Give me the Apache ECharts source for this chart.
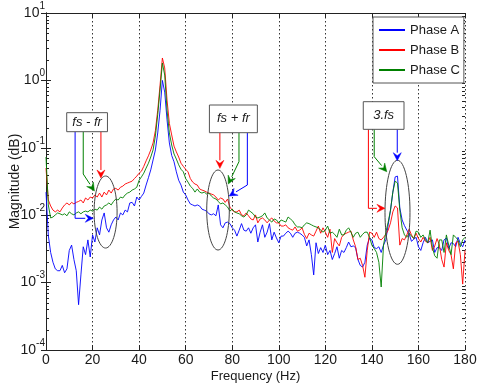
<!DOCTYPE html>
<html>
<head>
<meta charset="utf-8">
<script src="https://cdn.jsdelivr.net/npm/echarts@6/dist/echarts.min.js"></script>
<style>
  html, body { margin: 0; padding: 0; background: #fff; }
  #chart { width: 480px; height: 390px; }
</style>
</head>
<body>
<div id="chart"></div>
<script>
// frequency grid, 1 Hz steps
const freq = [];
for (let f = 0; f <= 180; f++) freq.push(f);

const seriesNames = ['Phase A', 'Phase B', 'Phase C'];

const phaseA = [
  0.022, 0.0050, 0.0028, 0.0020, 0.0016, 0.0015, 0.0015, 0.0018, 0.0014, 0.0016,
  0.0030, 0.0036, 0.0022, 0.0015, 0.00047, 0.0013, 0.0034, 0.0026, 0.0043, 0.0024,
  0.0051, 0.0040, 0.0065, 0.0051, 0.0085, 0.0108, 0.0065, 0.0056, 0.0072, 0.0085,
  0.0094, 0.0085, 0.0108, 0.0101, 0.0119, 0.0112, 0.0152, 0.0155, 0.0137, 0.0186,
  0.0168, 0.019, 0.0213, 0.028, 0.036, 0.047, 0.066, 0.093, 0.166, 0.36,
  1.0, 0.67, 0.26, 0.118, 0.077, 0.062, 0.044, 0.033, 0.028, 0.022,
  0.020, 0.0168, 0.0147, 0.0142, 0.0137, 0.0142, 0.0137, 0.0123, 0.0119, 0.0115,
  0.0105, 0.0101, 0.0105, 0.0098, 0.0142, 0.0072, 0.0065, 0.0077, 0.0079, 0.0075,
  0.0065, 0.0060, 0.0049, 0.0060, 0.0075, 0.0060, 0.0058, 0.0065, 0.0054, 0.0065,
  0.0072, 0.0040, 0.0056, 0.0072, 0.0047, 0.0056, 0.0075, 0.0043, 0.0056, 0.0046,
  0.0039, 0.0049, 0.0049, 0.0054, 0.0058, 0.0054, 0.0047, 0.0054, 0.0056, 0.0054,
  0.0051, 0.0047, 0.0035, 0.0043, 0.0026, 0.0013, 0.0039, 0.0027, 0.0033, 0.0028,
  0.0036, 0.0026, 0.0030, 0.0022, 0.0027, 0.0034, 0.0023, 0.0030, 0.0028, 0.0033,
  0.0040, 0.0034, 0.0035, 0.0033, 0.0022, 0.0018, 0.0017, 0.0020, 0.0036, 0.0046,
  0.0043, 0.0033, 0.0032, 0.0034, 0.0028, 0.0036, 0.0043, 0.0072, 0.0119, 0.022,
  0.037, 0.038, 0.0128, 0.0085, 0.0070, 0.0060, 0.0053, 0.0041, 0.0044, 0.0047,
  0.0034, 0.0030, 0.0039, 0.0047, 0.0039, 0.0041, 0.0043, 0.0028, 0.0033, 0.0033,
  0.0030, 0.0043, 0.0046, 0.0032, 0.0039, 0.0038, 0.0034, 0.0047, 0.0038, 0.0034,
  0.0043
];

const phaseB = [
  0.050, 0.0168, 0.0137, 0.0119, 0.0112, 0.0119, 0.0112, 0.0128, 0.0142, 0.0152,
  0.0142, 0.0155, 0.0147, 0.0155, 0.016, 0.0168, 0.0152, 0.018, 0.0168, 0.0186,
  0.018, 0.020, 0.0186, 0.0213, 0.0186, 0.022, 0.020, 0.0236, 0.0213, 0.0245,
  0.025, 0.0236, 0.026, 0.027, 0.029, 0.030, 0.031, 0.032, 0.035, 0.038,
  0.042, 0.045, 0.053, 0.064, 0.076, 0.093, 0.118, 0.18, 0.36, 0.85,
  2.15, 1.53, 0.51, 0.23, 0.155, 0.106, 0.087, 0.073, 0.059, 0.053,
  0.048, 0.044, 0.035, 0.031, 0.029, 0.028, 0.0245, 0.0236, 0.023, 0.022,
  0.0213, 0.0206, 0.020, 0.0186, 0.0168, 0.018, 0.0174, 0.0155, 0.0174, 0.0132,
  0.0119, 0.0112, 0.0112, 0.0119, 0.0101, 0.0098, 0.0108, 0.0098, 0.0088, 0.0085,
  0.0101, 0.0077, 0.0088, 0.0091, 0.0085, 0.0077, 0.0085, 0.0091, 0.0082, 0.0077,
  0.0077, 0.0069, 0.0069, 0.0072, 0.0065, 0.0062, 0.0060, 0.0067, 0.0058, 0.0060,
  0.0065, 0.0052, 0.0045, 0.0054, 0.0051, 0.0049, 0.0058, 0.0069, 0.0054, 0.0065,
  0.0056, 0.0047, 0.0062, 0.0028, 0.0045, 0.0039, 0.0035, 0.0047, 0.0052, 0.0054,
  0.0056, 0.0058, 0.0043, 0.0034, 0.0022, 0.0023, 0.0018, 0.0012, 0.0030, 0.0056,
  0.0054, 0.0047, 0.0056, 0.0045, 0.0043, 0.0047, 0.0052, 0.0060, 0.0077, 0.0112,
  0.0137, 0.0128, 0.0036, 0.0045, 0.0043, 0.0051, 0.0062, 0.0051, 0.0045, 0.0054,
  0.0045, 0.0040, 0.0047, 0.0041, 0.0039, 0.0047, 0.0030, 0.0035, 0.0045, 0.0036,
  0.0022, 0.0017, 0.0039, 0.0030, 0.0026, 0.0016, 0.0039, 0.0041, 0.0026, 0.00095,
  0.0030
];

const phaseC = [
  0.073, 0.0142, 0.0091, 0.0094, 0.0101, 0.0108, 0.0105, 0.0101, 0.0105, 0.0098,
  0.0112, 0.0105, 0.0101, 0.0108, 0.0112, 0.0105, 0.0112, 0.0115, 0.0112, 0.0119,
  0.0115, 0.0123, 0.0119, 0.0132, 0.0123, 0.0137, 0.0142, 0.0152, 0.0142, 0.016,
  0.0174, 0.0168, 0.0186, 0.018, 0.020, 0.0213, 0.022, 0.0236, 0.0245, 0.026,
  0.033, 0.037, 0.042, 0.050, 0.059, 0.073, 0.093, 0.150, 0.31, 0.72,
  1.81, 1.2, 0.36, 0.166, 0.11, 0.081, 0.068, 0.056, 0.048, 0.044,
  0.035, 0.031, 0.027, 0.025, 0.022, 0.0245, 0.022, 0.0213, 0.022, 0.0206,
  0.0213, 0.0193, 0.018, 0.0174, 0.016, 0.0147, 0.0152, 0.0142, 0.0132, 0.0115,
  0.0123, 0.0112, 0.0108, 0.0105, 0.0098, 0.0094, 0.0101, 0.0119, 0.0112, 0.0105,
  0.0094, 0.0091, 0.0094, 0.0098, 0.0108, 0.0091, 0.0085, 0.0079, 0.0088, 0.0085,
  0.0077, 0.0085, 0.0082, 0.0079, 0.0094, 0.0088, 0.0082, 0.0072, 0.0067, 0.0067,
  0.0065, 0.0072, 0.0077, 0.0075, 0.0072, 0.0069, 0.0067, 0.0065, 0.0060, 0.0056,
  0.0060, 0.0069, 0.0054, 0.0056, 0.0052, 0.0047, 0.0062, 0.0051, 0.0051, 0.0060,
  0.0065, 0.0056, 0.0047, 0.0054, 0.0056, 0.0047, 0.0052, 0.0056, 0.0056, 0.0047,
  0.0036, 0.0032, 0.0028, 0.0020, 0.00086, 0.0036, 0.0056, 0.0079, 0.0119, 0.022,
  0.032, 0.030, 0.0119, 0.0065, 0.0051, 0.0047, 0.0054, 0.0049, 0.0045, 0.0058,
  0.0056, 0.0047, 0.0051, 0.0043, 0.0039, 0.0060, 0.0033, 0.0025, 0.0023, 0.0043,
  0.0043, 0.0028, 0.0051, 0.0036, 0.0026, 0.0051, 0.0047, 0.0043, 0.0034, 0.0043,
  0.0047
];

// annotation callouts, in data units: [freq, log10(magnitude)]
const calloutText = ['fs - fr', 'fs + fr', '3.fs'];
const calloutBox = [
  [8.9, -0.479, 26.4, -0.761],
  [70.2, -0.365, 90.8, -0.776],
  [136.3, -0.316, 153.8, -0.726]
];
const calloutEllipse = [[25.6, -1.953], [73.9, -1.923], [151.0, -1.957]];
// arrow paths per callout: blue, green, red
const calloutArrows = [
  [
    ['#0000ff', [[12.5, -0.761], [12.5, -2.046], [20.3, -2.046]]],
    ['#008000', [[16.0, -0.761], [16.0, -1.389], [20.8, -1.641]]],
    ['#ff0000', [[23.6, -0.761], [23.6, -1.448]]]
  ],
  [
    ['#ff0000', [[74.7, -0.776], [74.7, -1.305]]],
    ['#008000', [[82.9, -0.776], [82.9, -1.206], [78.3, -1.537]]],
    ['#0000ff', [[86.5, -0.776], [86.5, -1.552], [78.7, -1.715]]]
  ],
  [
    ['#0000ff', [[150.9, -0.726], [150.9, -1.191]]],
    ['#008000', [[141.0, -0.726], [141.0, -1.132], [146.4, -1.355]]],
    ['#ff0000', [[138.5, -0.726], [138.5, -1.898], [145.6, -1.898]]]
  ]
];

const colors = ['#0000ff', '#ff0000', '#008000'];
const font = 'Liberation Sans, Arial, sans-serif';
const ink = '#1a1a1a';

const chart = echarts.init(document.getElementById('chart'));

function pairs(vals) {
  return vals.map((v, i) => [freq[i], v]);
}

const option = {
  animation: false,
  backgroundColor: '#fff',
  color: colors,
  grid: { left: 46, right: 15, top: 13, bottom: 40, outerBoundsMode: 'none', containLabel: false },
  legend: {
    orient: 'vertical',
    left: 373,
    top: 17,
    padding: [6, 4, 6, 6],
    itemWidth: 26,
    itemHeight: 2,
    itemGap: 6,
    icon: 'rect',
    backgroundColor: '#fff',
    borderColor: '#555',
    borderWidth: 1,
    borderRadius: 0,
    textStyle: { fontFamily: font, fontSize: 13, color: ink, lineHeight: 14 },
    data: seriesNames
  },
  xAxis: [{
    type: 'value',
    min: 0,
    max: 180,
    interval: 20,
    name: 'Frequency (Hz)',
    nameLocation: 'middle',
    nameGap: 20,
    nameMoveOverlap: false,
    nameTextStyle: { fontFamily: font, fontSize: 13, color: ink },
    axisLine: { lineStyle: { color: '#222', width: 1 } },
    axisTick: { inside: true, length: 5, lineStyle: { color: '#222' } },
    axisLabel: { fontFamily: font, fontSize: 14, color: ink, margin: 3 },
    splitLine: { show: true, lineStyle: { color: '#333', type: [1.5, 2.5], width: 1 } }
  }, {
    type: 'value',
    position: 'top',
    min: 0,
    max: 180,
    interval: 20,
    axisLine: { lineStyle: { color: '#222', width: 1 } },
    axisTick: { inside: true, length: 5, lineStyle: { color: '#222' } },
    axisLabel: { show: false },
    splitLine: { show: false }
  }],
  yAxis: [{
    type: 'log',
    logBase: 10,
    min: 0.0001,
    max: 10,
    name: 'Magnitude (dB)',
    nameLocation: 'middle',
    nameGap: 24,
    nameMoveOverlap: false,
    nameTextStyle: { fontFamily: font, fontSize: 14, color: ink },
    axisLine: { show: true, lineStyle: { color: '#222', width: 1 } },
    axisTick: { inside: true, length: 5, lineStyle: { color: '#222' } },
    axisLabel: {
      margin: 1,
      formatter: function (v) {
        const e = Math.round(Math.log10(v));
        return '{b|10}{s|' + e + '}';
      },
      rich: {
        b: { fontFamily: font, fontSize: 14, color: ink },
        s: { fontFamily: font, fontSize: 10, color: ink, padding: [0, 0, 14, 0] }
      }
    },
    splitLine: { show: false }
  }, {
    type: 'log',
    logBase: 10,
    min: 0.0001,
    max: 10,
    position: 'right',
    axisLine: { show: true, lineStyle: { color: '#222', width: 1 } },
    axisTick: { inside: true, length: 5, lineStyle: { color: '#222' } },
    axisLabel: { show: false },
    splitLine: { show: false }
  }],
  series: [phaseA, phaseB, phaseC].map((vals, i) => ({
    name: seriesNames[i],
    type: 'line',
    symbol: 'none',
    showSymbol: false,
    xAxisIndex: 0,
    yAxisIndex: 0,
    lineStyle: { width: 0.9, color: colors[i] },
    data: pairs(vals)
  }))
};

chart.setOption(option);

// extra drawing in data coordinates: minor log ticks and the callouts
function px(f, lg) {
  return chart.convertToPixel({ xAxisIndex: 0, yAxisIndex: 0 }, [f, Math.pow(10, lg)]);
}

const graphics = [];
const xl = chart.convertToPixel({ xAxisIndex: 0 }, 0);
const xr = chart.convertToPixel({ xAxisIndex: 0 }, 180);
for (let n = -4; n < 1; n++) {
  for (let k = 2; k <= 9; k++) {
    const y = Math.round(chart.convertToPixel({ yAxisIndex: 0 }, k * Math.pow(10, n))) + 0.5;
    graphics.push({ type: 'line', silent: true, shape: { x1: xl, y1: y, x2: xl + 3, y2: y }, style: { stroke: '#222', lineWidth: 1 } });
    graphics.push({ type: 'line', silent: true, shape: { x1: xr - 3, y1: y, x2: xr, y2: y }, style: { stroke: '#222', lineWidth: 1 } });
  }
}

const ellipseR = [[11.5, 36], [11.3, 40], [12.5, 52]];

calloutText.forEach((txt, i) => {
  const b = calloutBox[i];
  const p1 = px(b[0], b[1]);
  const p2 = px(b[2], b[3]);
  const c = px(calloutEllipse[i][0], calloutEllipse[i][1]);
  graphics.push({
    type: 'ellipse', silent: true, z: 50,
    shape: { cx: c[0], cy: c[1], rx: ellipseR[i][0], ry: ellipseR[i][1] },
    style: { fill: 'none', stroke: '#444', lineWidth: 1 }
  });
  calloutArrows[i].forEach(([col, pts]) => {
    const pp = pts.map(p => px(p[0], p[1]));
    const a = pp[pp.length - 1];
    const b0 = pp[pp.length - 2];
    const dx = a[0] - b0[0], dy = a[1] - b0[1];
    const len = Math.sqrt(dx * dx + dy * dy);
    const ux = dx / len, uy = dy / len;
    const L = 8, W = 4;
    const base = [a[0] - ux * L, a[1] - uy * L];
    graphics.push({
      type: 'polyline', silent: true, z: 51,
      shape: { points: pp.slice(0, -1).concat([base]) },
      style: { stroke: col, lineWidth: 1, fill: 'none' }
    });
    graphics.push({
      type: 'polygon', silent: true, z: 51,
      shape: { points: [a, [base[0] - uy * W, base[1] + ux * W], [a[0] - ux * 5, a[1] - uy * 5], [base[0] + uy * W, base[1] - ux * W]] },
      style: { fill: col, stroke: col, lineWidth: 0.5 }
    });
  });
  graphics.push({
    type: 'rect', silent: true, z: 52,
    shape: { x: p1[0], y: p1[1], width: p2[0] - p1[0], height: p2[1] - p1[1] },
    style: { fill: '#fff', stroke: '#555', lineWidth: 1 }
  });
  graphics.push({
    type: 'text', silent: true, z: 53,
    x: (p1[0] + p2[0]) / 2, y: (p1[1] + p2[1]) / 2,
    style: {
      text: txt, fill: ink, fontFamily: font, fontSize: 13, fontStyle: 'italic',
      align: 'center', verticalAlign: 'middle'
    }
  });
});

chart.setOption({ graphic: graphics });
</script>
</body>
</html>
